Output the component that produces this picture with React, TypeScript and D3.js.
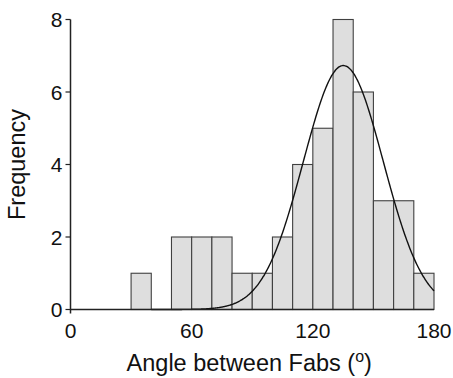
import React from "react";
import * as d3 from "d3";

const binStarts = [30, 50, 60, 70, 80, 90, 100, 110, 120, 130, 140, 150, 160, 170];
const counts = [1, 2, 2, 2, 1, 1, 2, 4, 5, 8, 6, 3, 3, 1];
const binWidth = 10;
const xTicks = [0, 60, 120, 180];
const yTicks = [0, 2, 4, 6, 8];
const fitMean = 135.1;
const fitSd = 19.8;
const fitPeak = 6.73;

export default function App() {
  const W = 453, H = 378;
  const x = d3.scaleLinear().domain([0, 180]).range([70.5, 434]);
  const y = d3.scaleLinear().domain([0, 8]).range([309.5, 19.5]);
  const font = "Liberation Sans, Arial, Helvetica, sans-serif";

  const curvePts: [number, number][] = d3.range(40, 180.01, 0.5).map((v) => [
    v,
    fitPeak * Math.exp(-((v - fitMean) ** 2) / (2 * fitSd * fitSd)),
  ]);
  const line = d3
    .line<[number, number]>()
    .x((d) => x(d[0]))
    .y((d) => y(d[1]))
    .curve(d3.curveBasis);

  return (
    <svg
      width={W}
      height={H}
      style={{ position: "absolute", left: 0, top: 0, background: "#fff" }}
      fontFamily={font}
    >
      {binStarts.map((b, i) => (
        <rect
          key={i}
          x={x(b)}
          y={y(counts[i])}
          width={x(b + binWidth) - x(b)}
          height={y(0) - y(counts[i])}
          fill="#dedede"
          stroke="#404040"
          strokeWidth={1.1}
        />
      ))}
      <path d={line(curvePts) || ""} fill="none" stroke="#111" strokeWidth={1.4} />
      {/* axes */}
      <line x1={x(0)} x2={x(180)} y1={y(0)} y2={y(0)} stroke="#222" strokeWidth={1.5} />
      <line x1={x(0)} x2={x(0)} y1={y(8)} y2={y(0) + 4} stroke="#222" strokeWidth={1.5} />
      {yTicks.map((t) => (
        <g key={t}>
          <line x1={x(0) - 5} x2={x(0)} y1={y(t)} y2={y(t)} stroke="#222" strokeWidth={1.2} />
          <text x={x(0) - 8} y={y(t)} dy="0.36em" textAnchor="end" fontSize={21} fill="#111">
            {t}
          </text>
        </g>
      ))}
      {xTicks.map((t) => (
        <text key={t} x={x(t)} y={y(0) + 28} textAnchor="middle" fontSize={21} fill="#111">
          {t}
        </text>
      ))}
      <text x={x(90) - 3} y={371} textAnchor="middle" fontSize={23.5} fill="#111">
        Angle between Fabs (
        <tspan fontSize={16} dy={-9}>o</tspan>
        <tspan dy={9}>)</tspan>
      </text>
      <text
        transform={`translate(25,${y(4)}) rotate(-90)`}
        textAnchor="middle"
        fontSize={23.5}
        fill="#111"
      >
        Frequency
      </text>
    </svg>
  );
}
